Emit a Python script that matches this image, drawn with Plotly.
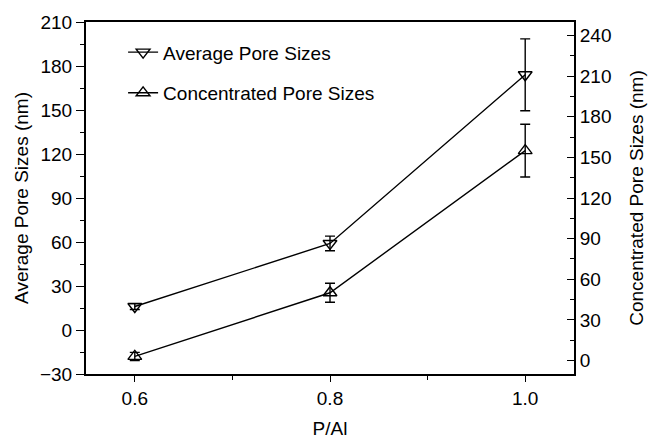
import plotly.graph_objects as go

# P/Al ratio and measured pore sizes (nm)
p_al = [0.6, 0.8, 1.0]
avg_size = [16, 59, 174]
avg_err = [2, 5, 24.5]
conc_size = [3, 50, 155]
conc_err = [3, 7, 19.5]

series_names = ["Average Pore Sizes", "Concentrated Pore Sizes"]
series_symbols = ["triangle-down-open", "triangle-up-open"]

FONT = "Liberation Sans, Arial, sans-serif"
BLACK = "#000000"

line_style = dict(color=BLACK, width=1.4)


def marker_style(symbol):
    return dict(symbol=symbol, size=12, color=BLACK,
                line=dict(color=BLACK, width=1.4))


fig = go.Figure()

# Data series with error bars (average on the left axis, concentrated on the right)
for ys, errs, sym, axis in [(avg_size, avg_err, series_symbols[0], "y"),
                            (conc_size, conc_err, series_symbols[1], "y2")]:
    fig.add_trace(go.Scatter(
        x=p_al, y=ys, mode="lines+markers", showlegend=False,
        line=line_style, marker=marker_style(sym),
        error_y=dict(type="data", array=errs, visible=True,
                     color=BLACK, thickness=1.4, width=5),
        yaxis=axis,
    ))

# Legend entries (plain line + marker glyphs)
for i, (name, sym) in enumerate(zip(series_names, series_symbols)):
    fig.add_trace(go.Scatter(
        x=[None], y=[None], name=name, mode="lines+markers",
        legendgroup=f"g{i}", line=line_style, marker=marker_style(sym),
    ))

axis_font = dict(family=FONT, size=19, color=BLACK)

fig.update_layout(
    width=656, height=448,
    margin=dict(l=86, r=82, t=19, b=70),
    paper_bgcolor="white", plot_bgcolor="white",
    font=axis_font,
    showlegend=True,
    legend=dict(
        x=0.076, y=0.968, xanchor="left", yanchor="top",
        bgcolor="rgba(0,0,0,0)", borderwidth=0,
        font=dict(family=FONT, size=19, color=BLACK),
        tracegroupgap=13,
    ),
    xaxis=dict(
        title=dict(text="P/Al", font=axis_font, standoff=14),
        range=[0.55, 1.05], tickvals=[0.6, 0.8, 1.0],
        ticktext=["0.6", "0.8", "1.0"],
        ticks="outside", ticklen=6, tickwidth=1.4, tickcolor=BLACK,
        minor=dict(tickvals=[0.7, 0.9], ticks="outside", ticklen=4,
                   tickwidth=1.4, tickcolor=BLACK),
        showline=True, linecolor=BLACK, linewidth=2, mirror=True,
        showgrid=False, zeroline=False, tickfont=axis_font,
    ),
    yaxis=dict(
        title=dict(text="Average Pore Sizes (nm)", font=axis_font, standoff=6),
        range=[-30, 210], tick0=-30, dtick=30,
        ticks="outside", ticklen=8, tickwidth=1.4, tickcolor=BLACK,
        minor=dict(dtick=15, tick0=-30, ticks="outside", ticklen=4,
                   tickwidth=1.4, tickcolor=BLACK),
        showline=True, linecolor=BLACK, linewidth=2,
        showgrid=False, zeroline=False, tickfont=axis_font,
    ),
    yaxis2=dict(
        title=dict(text="Concentrated Pore Sizes (nm)", font=axis_font, standoff=19),
        overlaying="y", side="right",
        range=[-10, 250], tick0=0, dtick=30,
        ticks="inside", ticklen=7, tickwidth=1.4, tickcolor=BLACK,
        minor=dict(dtick=15, tick0=0, ticks="inside", ticklen=4,
                   tickwidth=1.4, tickcolor=BLACK),
        showline=True, linecolor=BLACK, linewidth=2,
        showgrid=False, zeroline=False, tickfont=axis_font,
    ),
)

fig.write_html("out.html")
